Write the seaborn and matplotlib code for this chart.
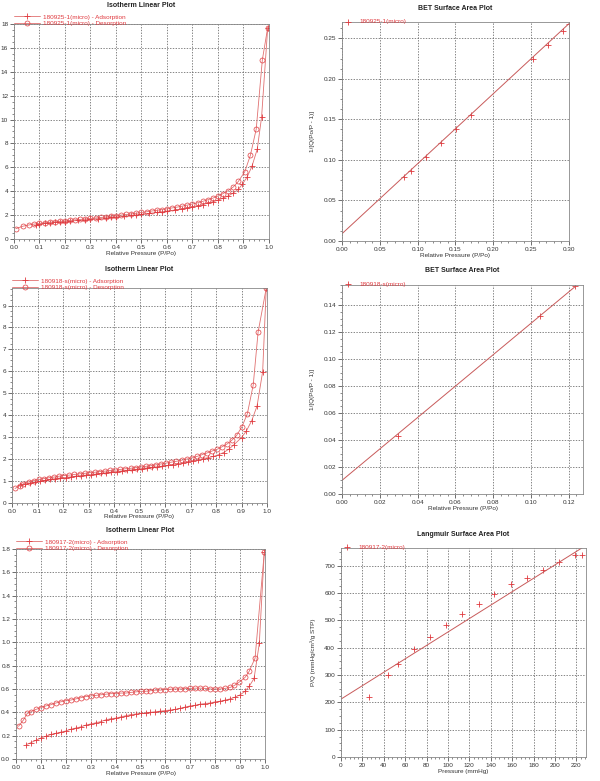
import numpy as np
import pandas as pd
import matplotlib
matplotlib.use("Agg")
import matplotlib.pyplot as plt
from matplotlib.ticker import MultipleLocator, AutoMinorLocator, FormatStrFormatter
import seaborn as sns

# ---------------- data ----------------
# Panel 1: 180925-1(micro) isotherm
iso1_ads_x = [0.085, 0.10, 0.12, 0.14, 0.16, 0.18, 0.20, 0.22, 0.25, 0.28, 0.30, 0.33, 0.36, 0.38, 0.40,
              0.43, 0.46, 0.48, 0.50, 0.53, 0.56, 0.58, 0.60, 0.63, 0.66, 0.68, 0.70, 0.72, 0.74, 0.76,
              0.78, 0.80, 0.82, 0.84, 0.86, 0.88, 0.896, 0.914, 0.933, 0.954, 0.971, 0.995]
iso1_ads_y = [1.17, 1.25, 1.30, 1.35, 1.39, 1.43, 1.46, 1.50, 1.55, 1.60, 1.65, 1.70, 1.76, 1.80, 1.85,
              1.90, 1.97, 2.02, 2.07, 2.14, 2.22, 2.28, 2.34, 2.42, 2.52, 2.60, 2.68, 2.78, 2.88, 3.00,
              3.12, 3.25, 3.42, 3.60, 3.85, 4.15, 4.60, 5.18, 6.07, 7.52, 10.2, 17.7]
iso1_des_x = [0.995, 0.974, 0.950, 0.927, 0.905, 0.880, 0.860, 0.840, 0.820, 0.800, 0.780, 0.760, 0.740,
              0.720, 0.700, 0.680, 0.660, 0.640, 0.620, 0.600, 0.580, 0.560, 0.540, 0.520, 0.500, 0.480,
              0.460, 0.440, 0.420, 0.400, 0.380, 0.360, 0.340, 0.320, 0.300, 0.280, 0.260, 0.240, 0.220,
              0.200, 0.180, 0.160, 0.140, 0.120, 0.100, 0.080, 0.060, 0.035, 0.007]
iso1_des_y = [17.7, 15.0, 9.2, 7.0, 5.63, 4.82, 4.35, 4.05, 3.80, 3.60, 3.42, 3.28, 3.15,
              3.03, 2.93, 2.84, 2.75, 2.67, 2.60, 2.53, 2.46, 2.40, 2.34, 2.28, 2.22, 2.16,
              2.10, 2.05, 2.00, 1.95, 1.90, 1.85, 1.80, 1.76, 1.72, 1.68, 1.64, 1.60, 1.56,
              1.52, 1.48, 1.44, 1.40, 1.36, 1.31, 1.25, 1.18, 1.07, 0.86]

# Panel 2: BET 180925-1(micro)
bet1_x = [0.0826, 0.0914, 0.111, 0.131, 0.151, 0.171, 0.252, 0.272, 0.292, 0.300]
bet1_y = [0.079, 0.0865, 0.104, 0.121, 0.138, 0.155, 0.224, 0.242, 0.259, 0.268]
bet1_fit_x = [0.0, 0.30]
bet1_fit_y = [0.009, 0.268]

# Panel 3: 180918-s(micro) isotherm
iso2_ads_x = [0.033, 0.05, 0.07, 0.09, 0.11, 0.13, 0.15, 0.17, 0.19, 0.21, 0.23, 0.25, 0.27, 0.29,
              0.31, 0.33, 0.35, 0.37, 0.39, 0.41, 0.43, 0.45, 0.47, 0.49, 0.51, 0.53, 0.55, 0.57,
              0.59, 0.61, 0.63, 0.65, 0.67, 0.69, 0.71, 0.73, 0.75, 0.77, 0.79, 0.81, 0.83, 0.85,
              0.87, 0.90, 0.919, 0.94, 0.961, 0.983, 0.997]
iso2_ads_y = [0.82, 0.86, 0.91, 0.95, 0.99, 1.03, 1.07, 1.11, 1.14, 1.16, 1.19, 1.22, 1.25, 1.27,
              1.29, 1.32, 1.35, 1.38, 1.41, 1.43, 1.46, 1.49, 1.51, 1.54, 1.57, 1.60, 1.63, 1.65,
              1.68, 1.71, 1.75, 1.79, 1.83, 1.87, 1.92, 1.97, 2.02, 2.07, 2.12, 2.20, 2.30, 2.45,
              2.65, 2.98, 3.28, 3.75, 4.42, 5.99, 9.79]
iso2_des_x = [0.997, 0.965, 0.946, 0.923, 0.902, 0.881, 0.863, 0.845, 0.825, 0.805, 0.785, 0.765,
              0.745, 0.725, 0.705, 0.685, 0.665, 0.645, 0.625, 0.605, 0.585, 0.565, 0.545, 0.525,
              0.505, 0.485, 0.465, 0.445, 0.425, 0.405, 0.385, 0.365, 0.345, 0.325, 0.305, 0.285,
              0.265, 0.245, 0.225, 0.205, 0.185, 0.165, 0.145, 0.125, 0.105, 0.085, 0.065, 0.045,
              0.030, 0.012]
iso2_des_y = [9.79, 7.78, 5.38, 4.07, 3.48, 3.08, 2.87, 2.70, 2.57, 2.45, 2.37, 2.28,
              2.20, 2.12, 2.05, 2.00, 1.95, 1.90, 1.86, 1.82, 1.78, 1.74, 1.70, 1.67,
              1.64, 1.61, 1.58, 1.56, 1.53, 1.50, 1.48, 1.45, 1.43, 1.40, 1.38, 1.35,
              1.33, 1.30, 1.27, 1.25, 1.22, 1.18, 1.15, 1.11, 1.07, 1.02, 0.96, 0.88,
              0.78, 0.66]

# Panel 4: BET 180918-s(micro)
bet2_x = [0.0294, 0.1045, 0.1235]
bet2_y = [0.0433, 0.1323, 0.154]
bet2_fit_x = [0.0, 0.1235]
bet2_fit_y = [0.0101, 0.154]

# Panel 5: 180917-2(micro) isotherm
iso3_ads_x = [0.041, 0.06, 0.08, 0.10, 0.12, 0.14, 0.16, 0.18, 0.20, 0.22, 0.24, 0.26, 0.28, 0.30,
              0.32, 0.34, 0.36, 0.38, 0.40, 0.42, 0.44, 0.46, 0.48, 0.50, 0.52, 0.54, 0.56, 0.58,
              0.60, 0.62, 0.64, 0.66, 0.68, 0.70, 0.72, 0.74, 0.76, 0.78, 0.80, 0.82, 0.84, 0.86,
              0.88, 0.90, 0.92, 0.937, 0.956, 0.977, 0.997]
iso3_ads_y = [0.123, 0.14, 0.16, 0.18, 0.195, 0.21, 0.22, 0.23, 0.24, 0.255, 0.265, 0.275, 0.29, 0.30,
              0.31, 0.32, 0.335, 0.345, 0.35, 0.36, 0.37, 0.38, 0.385, 0.39, 0.395, 0.40, 0.405, 0.41,
              0.415, 0.42, 0.425, 0.435, 0.445, 0.455, 0.46, 0.47, 0.475, 0.48, 0.49, 0.495, 0.505, 0.515,
              0.53, 0.55, 0.58, 0.625, 0.69, 0.99, 1.77]
iso3_des_x = [0.997, 0.960, 0.936, 0.920, 0.897, 0.877, 0.860, 0.840, 0.820, 0.800, 0.780, 0.760,
              0.740, 0.720, 0.700, 0.680, 0.660, 0.640, 0.620, 0.600, 0.580, 0.560, 0.540, 0.520,
              0.500, 0.480, 0.460, 0.440, 0.420, 0.400, 0.380, 0.360, 0.340, 0.320, 0.300, 0.280,
              0.260, 0.240, 0.220, 0.200, 0.180, 0.160, 0.140, 0.120, 0.100, 0.080, 0.060, 0.045,
              0.030, 0.010]
iso3_des_y = [1.77, 0.864, 0.75, 0.70, 0.66, 0.63, 0.613, 0.605, 0.60, 0.60, 0.60, 0.605,
              0.607, 0.607, 0.605, 0.603, 0.60, 0.60, 0.598, 0.595, 0.59, 0.59, 0.585, 0.58,
              0.58, 0.575, 0.57, 0.565, 0.565, 0.56, 0.56, 0.555, 0.55, 0.545, 0.54, 0.535,
              0.525, 0.515, 0.505, 0.50, 0.49, 0.48, 0.465, 0.455, 0.44, 0.425, 0.405, 0.39,
              0.335, 0.28]

# Panel 6: Langmuir 180917-2(micro)
lang_x = [26.5, 43.6, 53, 68, 83.5, 98.4, 113.4, 128.7, 143.3, 158.9, 174, 189, 204, 219, 225.5]
lang_y = [219, 300, 340, 395, 439, 484, 523, 560, 596, 633, 657, 684, 714, 739, 741]
lang_fit_x = [0, 230]
lang_fit_y = [212, 777]

titles = ["Isotherm Linear Plot", "BET Surface Area Plot", "Isotherm Linear Plot",
          "BET Surface Area Plot", "Isotherm Linear Plot", "Langmuir Surface Area Plot"]
samples = ["180925-1(micro)", "180918-s(micro)", "180917-2(micro)"]

# ---------------- style ----------------
sns.set_theme(style="white")
plt.rcParams['font.family'] = ['Liberation Sans', 'DejaVu Sans']
RED = "#e0393e"
LINE = "#e07070"
FIT = "#c85a5a"
FS = 4.6

fig = plt.figure(figsize=(6.0, 7.81), dpi=100)

rects = [
    (0.0233, 0.6940, 0.425, 0.2753),
    (0.5700, 0.6914, 0.3783, 0.2804),
    (0.0200, 0.3560, 0.425, 0.2753),
    (0.5700, 0.3675, 0.4017, 0.2676),
    (0.0267, 0.0282, 0.415, 0.2689),
    (0.5683, 0.0307, 0.4083, 0.2676),
]
axes = [fig.add_axes(r) for r in rects]


def style_axes(ax, xmaj, ymaj, xfmt, yfmt, xlim, ylim, xminor=5, yminor=4):
    ax.set_xlim(*xlim)
    ax.set_ylim(*ylim)
    ax.xaxis.set_major_locator(MultipleLocator(xmaj))
    ax.yaxis.set_major_locator(MultipleLocator(ymaj))
    ax.xaxis.set_minor_locator(AutoMinorLocator(xminor))
    ax.yaxis.set_minor_locator(AutoMinorLocator(yminor))
    ax.xaxis.set_major_formatter(FormatStrFormatter(xfmt))
    ax.yaxis.set_major_formatter(FormatStrFormatter(yfmt))
    ax.grid(True, which="major", color="#555555", linestyle=(0, (2, 2)), linewidth=0.5)
    ax.tick_params(axis="both", which="major", labelsize=FS, length=3, width=0.5,
                   direction="out", pad=1.2, bottom=True, left=True, colors="#333333")
    ax.tick_params(axis="both", which="minor", length=1.6, width=0.4, direction="out",
                   bottom=True, left=True, colors="#333333")
    for s in ax.spines.values():
        s.set_color("#888888")
        s.set_linewidth(0.6)


def iso_panel(ax, ax_x, ax_y, de_x, de_y, sample, title, ylim, ymaj, yfmt):
    ads = pd.DataFrame({"x": ax_x, "y": ax_y})
    des = pd.DataFrame({"x": de_x, "y": de_y})
    sns.lineplot(data=ads, x="x", y="y", ax=ax, color=LINE, linewidth=0.6, marker="+",
                 markersize=4, markeredgewidth=0.6, markeredgecolor=RED,
                 label=f"{sample} - Adsorption", sort=False)
    sns.lineplot(data=des, x="x", y="y", ax=ax, color=LINE, linewidth=0.6, marker="o",
                 markersize=3.6, markerfacecolor="none", markeredgewidth=0.5,
                 markeredgecolor=RED, label=f"{sample} - Desorption", sort=False)
    style_axes(ax, 0.1, ymaj, "%.1f", yfmt, (0, 1.0), ylim)
    ax.set_xlabel("Relative Pressure (P/Po)", fontsize=FS, labelpad=0.5, color="#333333")
    ax.set_ylabel("")
    ax.set_title(title, fontsize=FS + 0.4, fontweight="bold", pad=12, color="#222222")
    ax.legend(loc="lower left", bbox_to_anchor=(0.0, 0.99), frameon=False, fontsize=FS,
              handlelength=4, handletextpad=0.6, borderpad=0, borderaxespad=0,
              labelspacing=0.15, labelcolor=RED)


def fit_panel(ax, px, py, fx, fy, sample, title, xmaj, ymaj, xfmt, yfmt, xlim, ylim,
              xlabel, ylabel):
    pts = pd.DataFrame({"x": px, "y": py})
    fit = pd.DataFrame({"x": fx, "y": fy})
    sns.lineplot(data=fit, x="x", y="y", ax=ax, color=FIT, linewidth=0.7)
    sns.scatterplot(data=pts, x="x", y="y", ax=ax, marker="+", color=RED, s=16,
                    linewidth=0.6, label=sample)
    style_axes(ax, xmaj, ymaj, xfmt, yfmt, xlim, ylim)
    ax.set_xlabel(xlabel, fontsize=FS, labelpad=0.5, color="#333333")
    ax.set_ylabel(ylabel, fontsize=FS, labelpad=6, color="#333333")
    ax.set_title(title, fontsize=FS + 0.4, fontweight="bold", pad=9, color="#222222")
    ax.legend(loc="lower left", bbox_to_anchor=(0.0, 0.99), frameon=False, fontsize=FS,
              handlelength=2, handletextpad=0.8, borderpad=0, borderaxespad=0,
              labelcolor=RED)


iso_panel(axes[0], iso1_ads_x, iso1_ads_y, iso1_des_x, iso1_des_y, samples[0], titles[0],
          (0, 18), 2, "%d")
fit_panel(axes[1], bet1_x, bet1_y, bet1_fit_x, bet1_fit_y, samples[0], titles[1],
          0.05, 0.05, "%.2f", "%.2f", (0, 0.30), (0, 0.27),
          "Relative Pressure (P/Po)", "1/[Q(Po/P - 1)]")
iso_panel(axes[2], iso2_ads_x, iso2_ads_y, iso2_des_x, iso2_des_y, samples[1], titles[2],
          (0, 9.8), 1, "%d")
fit_panel(axes[3], bet2_x, bet2_y, bet2_fit_x, bet2_fit_y, samples[1], titles[3],
          0.02, 0.02, "%.2f", "%.2f", (0, 0.1275), (0, 0.155),
          "Relative Pressure (P/Po)", "1/[Q(Po/P - 1)]")
iso_panel(axes[4], iso3_ads_x, iso3_ads_y, iso3_des_x, iso3_des_y, samples[2], titles[4],
          (0, 1.8), 0.2, "%.1f")
fit_panel(axes[5], lang_x, lang_y, lang_fit_x, lang_fit_y, samples[2], titles[5],
          20, 100, "%d", "%d", (0, 229), (0, 765),
          "Pressure (mmHg)", "P/Q (mmHg/cm³/g STP)")

fig.savefig("out.png", dpi=100, facecolor="white")
